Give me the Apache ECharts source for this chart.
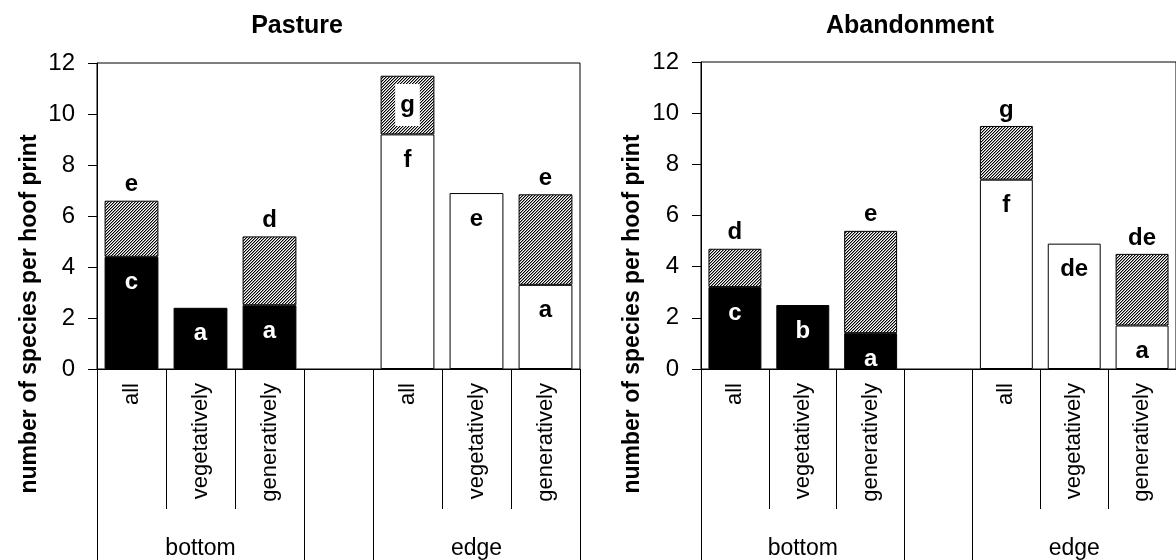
<!DOCTYPE html>
<html>
<head>
<meta charset="utf-8">
<script src="https://cdn.jsdelivr.net/npm/echarts@6/dist/echarts.min.js"></script>
<style>
html,body{margin:0;padding:0;background:#fff;}
#chart{width:1176px;height:560px;}
</style>
</head>
<body>
<div id="chart"></div>
<script>
// ---- data ----
const categories = ['all', 'vegetatively', 'generatively', '', 'all', 'vegetatively', 'generatively'];
const groupNames = ['bottom', 'edge'];
const groupStarts = [0, 4];
const groupSize = 3;
const yMin = 0, yMax = 12, yStep = 2;
const yTitle = 'number of species per hoof print';

const panelTitles = ['Pasture', 'Abandonment'];

const pastureBase = [4.4, 2.4, 2.5, null, 9.2, 6.9, 3.3];
const pastureTotal = [6.6, null, 5.2, null, 11.5, null, 6.85];
const pastureBaseLetters = ['c', 'a', 'a', '', 'f', 'e', 'a'];
const pastureTopLetters = ['e', '', 'd', '', '', '', 'e'];
const pastureHatchLetters = ['', '', '', '', 'g', '', ''];

const abandonBase = [3.2, 2.5, 1.4, null, 7.4, 4.9, 1.7];
const abandonTotal = [4.7, null, 5.4, null, 9.5, null, 4.5];
const abandonBaseLetters = ['c', 'b', 'a', '', 'f', 'de', 'a'];
const abandonTopLetters = ['d', '', 'e', '', 'g', '', 'de'];
const abandonHatchLetters = ['', '', '', '', '', '', ''];

// ---- styling ----
const SANS = "'Liberation Sans', Arial, Helvetica, sans-serif";

function makeHatch() {
  const n = 3;
  const c = document.createElement('canvas');
  c.width = n; c.height = n;
  const ctx = c.getContext('2d');
  const img = ctx.createImageData(n, n);
  for (let y = 0; y < n; y++) {
    for (let x = 0; x < n; x++) {
      const k = (y * n + x) * 4;
      const m = (x + y) % n;
      const v = m === 0 ? 0 : (m === 1 ? 150 : 255);
      img.data[k] = v; img.data[k + 1] = v; img.data[k + 2] = v; img.data[k + 3] = 255;
    }
  }
  ctx.putImageData(img, 0, 0);
  return c;
}
const hatch = makeHatch();

const panels = [
  {base: pastureBase, total: pastureTotal, baseL: pastureBaseLetters, topL: pastureTopLetters, hatchL: pastureHatchLetters,
   grid: {left: 97, top: 63, width: 483, height: 306}, titleX: 292, yTitleX: 30},
  {base: abandonBase, total: abandonTotal, baseL: abandonBaseLetters, topL: abandonTopLetters, hatchL: abandonHatchLetters,
   grid: {left: 701, top: 62, width: 483, height: 307}, titleX: 905, yTitleX: 633}
];

const grids = [], xAxes = [], yAxes = [], series = [], titles = [], graphics = [];
const tickVals = [];
groupStarts.forEach(s => { tickVals.push(s, s + groupSize); });
const groupCenters = groupStarts.map(s => s + groupSize / 2);
const letterFont = {fontFamily: SANS, fontWeight: 'bold', fontSize: 24};

panels.forEach((p, k) => {
  grids.push(Object.assign({show: true, borderColor: '#000', borderWidth: 1, backgroundColor: '#fff'}, p.grid));
  titles.push({
    text: panelTitles[k], left: p.titleX, top: 9, textAlign: 'center',
    textStyle: {fontFamily: SANS, fontWeight: 'bold', fontSize: 25, color: '#000'}
  });
  graphics.push({
    type: 'text', x: p.yTitleX, y: 314, rotation: Math.PI / 2,
    style: {text: yTitle, fill: '#000', font: "bold 23px 'Liberation Sans', Arial, sans-serif", align: 'center', verticalAlign: 'middle'}
  });
  xAxes.push({
    type: 'category', gridIndex: k, data: categories, position: 'bottom',
    axisLine: {show: true, lineStyle: {color: '#000', width: 1}},
    axisTick: {show: true, interval: 0, length: 140, lineStyle: {color: '#000', width: 1}},
    axisLabel: {show: true, interval: 0, rotate: 90, margin: 14, fontFamily: SANS, fontSize: 22, color: '#000'},
    splitLine: {show: false}
  });
  xAxes.push({
    type: 'value', gridIndex: k, min: 0, max: categories.length, position: 'bottom',
    axisLine: {show: false},
    axisTick: {show: true, customValues: tickVals, length: 200, lineStyle: {color: '#000', width: 1}},
    axisLabel: {show: true, customValues: groupCenters, margin: 168, fontFamily: SANS, fontSize: 23, color: '#000',
      formatter: v => groupNames[groupCenters.indexOf(v)] || ''},
    splitLine: {show: false}
  });
  yAxes.push({
    type: 'value', gridIndex: k, min: yMin, max: yMax, interval: yStep,
    axisLine: {show: true, lineStyle: {color: '#000', width: 1}},
    axisTick: {show: true, length: 9, lineStyle: {color: '#000', width: 1}},
    axisLabel: {margin: 22, fontFamily: SANS, fontSize: 24, color: '#000'},
    splitLine: {show: false}
  });
  const stackId = 's' + k;
  series.push({
    type: 'bar', xAxisIndex: 2 * k, yAxisIndex: k, stack: stackId, barCategoryGap: '22%',
    itemStyle: {borderColor: '#000', borderWidth: 1},
    data: p.base.map((v, i) => v == null ? '-' : {
      value: v,
      itemStyle: {color: i < groupStarts[1] ? '#000' : '#fff'},
      label: Object.assign({show: !!p.baseL[i], position: 'insideTop', distance: 14, formatter: p.baseL[i],
        color: i < groupStarts[1] ? '#fff' : '#000'}, letterFont)
    })
  });
  series.push({
    type: 'bar', xAxisIndex: 2 * k, yAxisIndex: k, stack: stackId, barCategoryGap: '22%',
    itemStyle: {color: {image: hatch, repeat: 'repeat'}, borderColor: '#000', borderWidth: 1},
    data: p.total.map((t, i) => {
      if (t == null) return '-';
      const v = +(t - p.base[i]).toFixed(3);
      let label = {show: false};
      if (p.hatchL[i]) {
        label = Object.assign({show: true, position: 'inside', formatter: p.hatchL[i], backgroundColor: '#fff',
          padding: [9, 5], color: '#000'}, letterFont);
      } else if (p.topL[i]) {
        label = Object.assign({show: true, position: 'top', distance: 4, formatter: p.topL[i], color: '#000'}, letterFont);
      }
      return {value: v, label: label};
    })
  });
});

const chart = echarts.init(document.getElementById('chart'), null, {renderer: 'canvas'});
chart.setOption({
  animation: false,
  backgroundColor: '#fff',
  title: titles,
  grid: grids,
  xAxis: xAxes,
  yAxis: yAxes,
  series: series,
  graphic: graphics
});
</script>
</body>
</html>
